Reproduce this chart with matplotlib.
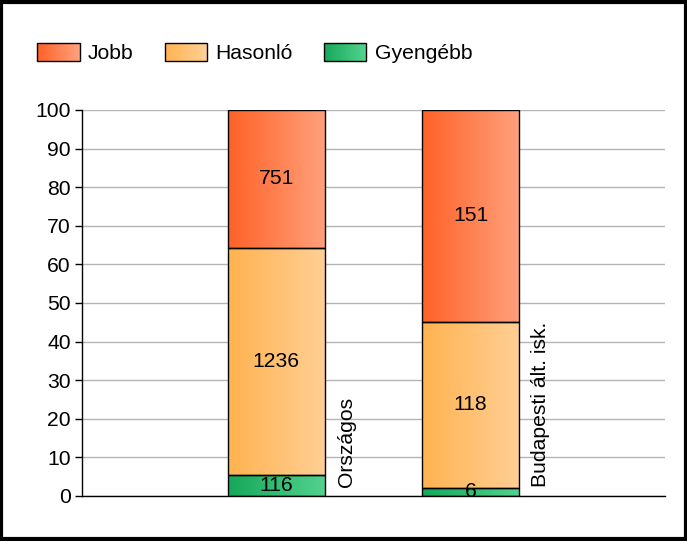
import matplotlib.pyplot as plt
import numpy as np
from matplotlib.colors import LinearSegmentedColormap, to_rgb
from matplotlib.patches import Rectangle
from matplotlib.legend_handler import HandlerBase

plt.rcParams['font.family'] = ['Liberation Sans', 'DejaVu Sans']

# === DATA ===
categories = ["Országos", "Budapesti ált. isk."]
series = ["Gyengébb", "Hasonló", "Jobb"]
counts = {
    "Gyengébb": [116, 6],
    "Hasonló": [1236, 118],
    "Jobb": [751, 151],
}
legend_order = ["Jobb", "Hasonló", "Gyengébb"]

# gradient colours (left, right)
grad = {
    "Jobb": ("#FF6228", "#FFA07C"),
    "Hasonló": ("#FFB351", "#FFCF94"),
    "Gyengébb": ("#16A85A", "#52D28E"),
}
cmaps = {k: LinearSegmentedColormap.from_list(k, v) for k, v in grad.items()}

FS = 15.2
totals = np.sum([counts[s] for s in series], axis=0)
bar_w = 0.5

fig = plt.figure(figsize=(6.87, 5.41), dpi=100)
ax = fig.add_axes([0.1194, 0.0832, 0.8486, 0.7135])

x = np.arange(len(categories))
bottoms = np.zeros(len(categories))
for s in series:
    pct = np.array(counts[s]) / totals * 100
    for i in range(len(categories)):
        x0, x1 = x[i] - bar_w / 2, x[i] + bar_w / 2
        y0, y1 = bottoms[i], bottoms[i] + pct[i]
        ax.imshow(np.linspace(0, 1, 64).reshape(1, -1), cmap=cmaps[s],
                  extent=[x0, x1, y0, y1], aspect='auto', zorder=2,
                  interpolation='bilinear')
        ax.add_patch(Rectangle((x0, y0), bar_w, pct[i], fill=False,
                               edgecolor='black', lw=1, zorder=3))
        ax.text(x[i], (y0 + y1) / 2, str(counts[s][i]), ha='center',
                va='center', fontsize=FS, zorder=4)
    bottoms += pct

for i, c in enumerate(categories):
    ax.text(x[i] + 0.36, 2.3, c, rotation=90, ha='center', va='bottom',
            fontsize=FS)

ax.set_xlim(-1, 2)
ax.set_ylim(0, 100)
ax.set_yticks(range(0, 101, 10))
ax.set_xticks([])
ax.tick_params(axis='y', labelsize=FS, length=5, width=1, color='black', pad=3)
ax.grid(axis='y', color='#B4B4B4', lw=1, zorder=0)
ax.set_axisbelow(True)
for sp in ['top', 'right']:
    ax.spines[sp].set_visible(False)
for sp in ['left', 'bottom']:
    ax.spines[sp].set_linewidth(1)


class GradHandler(HandlerBase):
    def create_artists(self, legend, orig_handle, xdescent, ydescent,
                       width, height, fontsize, trans):
        name = orig_handle.get_label()
        a, b = np.array(to_rgb(grad[name][0])), np.array(to_rgb(grad[name][1]))
        arts = []
        n = 20
        for k in range(n):
            t = k / (n - 1)
            arts.append(Rectangle((-xdescent + width * k / n, -ydescent),
                                  width / n + 0.3, height,
                                  facecolor=a + (b - a) * t, edgecolor='none',
                                  transform=trans))
        arts.append(Rectangle((-xdescent, -ydescent), width, height,
                              fill=False, edgecolor='black', lw=1,
                              transform=trans))
        return arts


handles = [Rectangle((0, 0), 1, 1, label=s) for s in legend_order]
fig.legend(handles=handles, labels=legend_order, loc='center left',
           bbox_to_anchor=(0.054, 0.902), ncol=3, frameon=False, fontsize=FS,
           handlelength=2.03, handleheight=0.9, handletextpad=0.38,
           columnspacing=1.46, borderpad=0, borderaxespad=0,
           handler_map={Rectangle: GradHandler()})

fig.add_artist(Rectangle((0.002, 0.003), 0.996, 0.994, transform=fig.transFigure,
                         fill=False, edgecolor='black', lw=3))

fig.savefig("out.png", dpi=100)
